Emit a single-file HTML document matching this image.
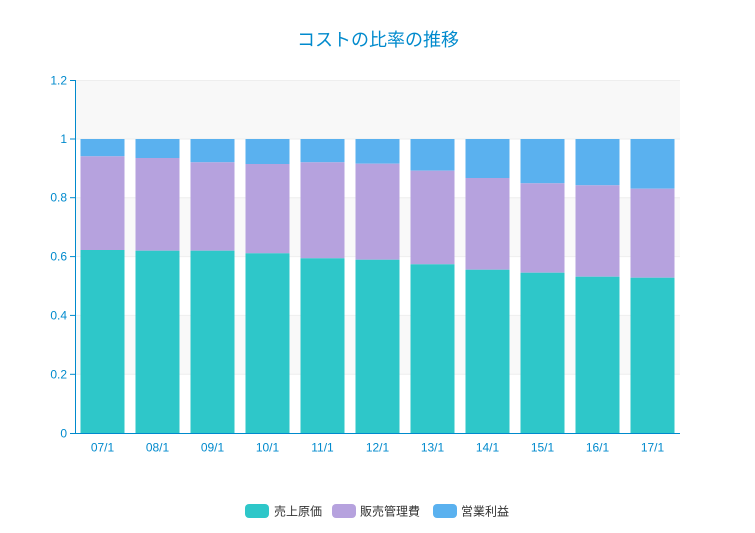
<!DOCTYPE html>
<html><head><meta charset="utf-8"><style>
html,body{margin:0;padding:0;background:#fff;}
svg{display:block;}
text{font-family:"Liberation Sans","Noto Sans CJK JP",sans-serif;}
</style></head><body>
<svg width="755" height="533" viewBox="0 0 755 533" xmlns="http://www.w3.org/2000/svg">
<rect x="0" y="0" width="755" height="533" fill="#fff"/>
<!-- split areas -->
<rect x="75" y="80" width="605" height="58.9" fill="#f8f8f8"/>
<rect x="75" y="197.7" width="605" height="58.9" fill="#f9f9f9"/>
<rect x="75" y="315.4" width="605" height="58.9" fill="#f9f9f9"/>
<!-- grid -->
<g stroke="#eeeeee" stroke-width="1">
<line x1="75" y1="80.5" x2="680" y2="80.5"/>
<line x1="75" y1="139" x2="680" y2="139"/>
<line x1="75" y1="197.7" x2="680" y2="197.7"/>
<line x1="75" y1="256.6" x2="680" y2="256.6"/>
<line x1="75" y1="315.4" x2="680" y2="315.4"/>
<line x1="75" y1="374.3" x2="680" y2="374.3"/>
</g>
<!-- bars -->
<g id="bars"></g>
<!-- axes -->
<g stroke="#008acd" stroke-width="1">
<line x1="75.5" y1="80" x2="75.5" y2="433.5"/>
<line x1="75" y1="433.5" x2="680" y2="433.5"/>
<line x1="70" y1="80.5" x2="75" y2="80.5"/>
<line x1="70" y1="139" x2="75" y2="139"/>
<line x1="70" y1="197.7" x2="75" y2="197.7"/>
<line x1="70" y1="256.6" x2="75" y2="256.6"/>
<line x1="70" y1="315.4" x2="75" y2="315.4"/>
<line x1="70" y1="374.3" x2="75" y2="374.3"/>
<line x1="70" y1="433.5" x2="75" y2="433.5"/>
</g>
<g fill="#008acd" font-size="12" text-anchor="end">
<text x="67" y="84.5">1.2</text>
<text x="67" y="143">1</text>
<text x="67" y="201.7">0.8</text>
<text x="67" y="260.6">0.6</text>
<text x="67" y="319.4">0.4</text>
<text x="67" y="378.3">0.2</text>
<text x="67" y="437.5">0</text>
</g>
<g fill="#008acd" font-size="12" text-anchor="middle" id="xl"></g>
<text x="378" y="46" fill="#008acd" font-size="18" text-anchor="middle">コストの比率の推移</text>
<!-- legend -->
<rect x="245" y="504" width="24" height="14" rx="4" fill="#2ec7c9"/>
<text x="274" y="515.5" font-size="12" fill="#333">売上原価</text>
<rect x="332" y="504" width="24" height="14" rx="4" fill="#b6a2de"/>
<text x="360" y="515.5" font-size="12" fill="#333">販売管理費</text>
<rect x="433" y="504" width="24" height="14" rx="4" fill="#5ab1ef"/>
<text x="461" y="515.5" font-size="12" fill="#333">営業利益</text>
</svg>
<script>
var teal=[250,250.7,250.7,253.3,258.3,259.7,264.3,269.7,272.7,276.7,277.7];
var purp=[156.3,158,162.3,164,162.3,163.7,170.7,178,183.3,185.3,188.7];
var labels=["07/1","08/1","09/1","10/1","11/1","12/1","13/1","14/1","15/1","16/1","17/1"];
var ns="http://www.w3.org/2000/svg";
var g=document.getElementById("bars"),xl=document.getElementById("xl");
function r(x,y,w,h,c){var e=document.createElementNS(ns,"rect");e.setAttribute("x",x);e.setAttribute("y",y);e.setAttribute("width",w);e.setAttribute("height",h);e.setAttribute("fill",c);g.appendChild(e);}
for(var i=0;i<11;i++){
 var x=80.5+55*i;
 r(x,139,44,purp[i]-139,"#5ab1ef");
 r(x,purp[i],44,teal[i]-purp[i],"#b6a2de");
 r(x,teal[i],44,433-teal[i],"#2ec7c9");
 var t=document.createElementNS(ns,"text");t.setAttribute("x",x+22);t.setAttribute("y",451.5);t.textContent=labels[i];xl.appendChild(t);
}
</script>
</body></html>
